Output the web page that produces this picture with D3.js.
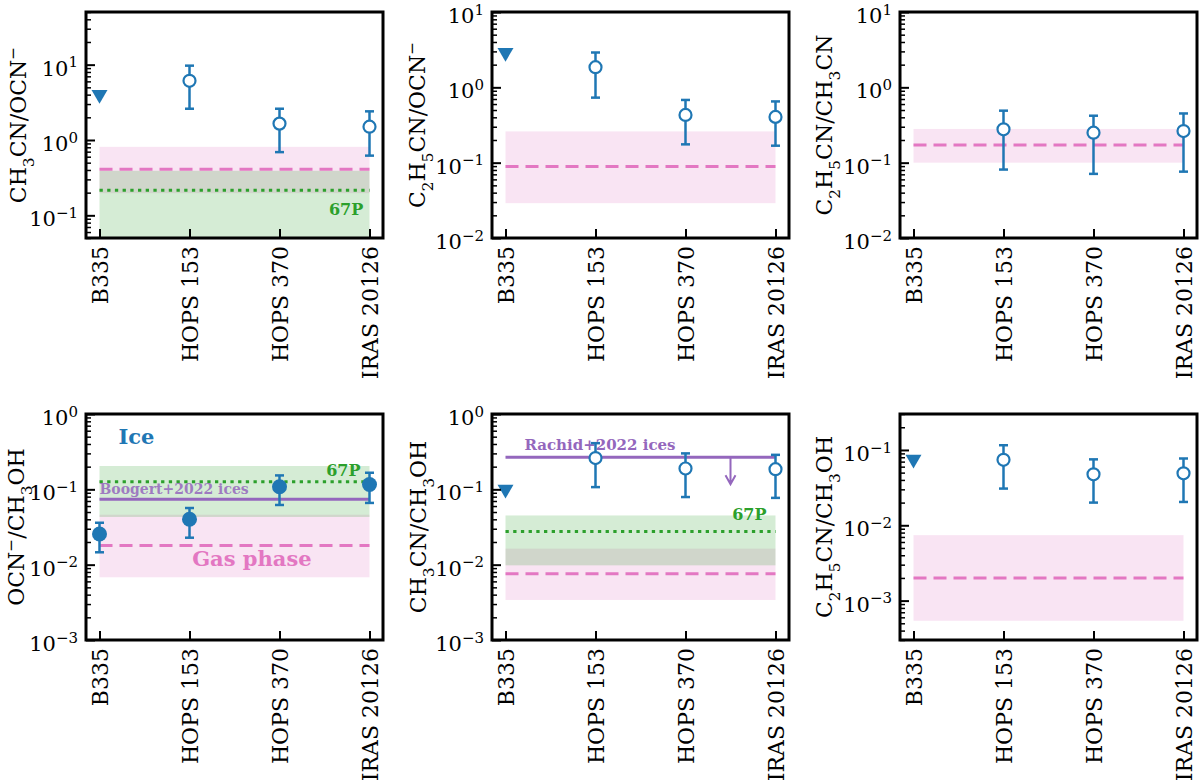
<!DOCTYPE html>
<html>
<head>
<meta charset="utf-8">
<script src="https://cdn.jsdelivr.net/npm/d3@7"></script>
<style>
  body { margin: 0; background: #fff; }
  svg { display: block; }
  text { font-family: "DejaVu Serif", "Liberation Serif", "Noto Serif", serif; }
</style>
</head>
<body>
<div id="chart"></div>
<script>
// ---- data ----
const sources = ["B335", "HOPS 153", "HOPS 370", "IRAS 20126"];

// CH3CN / OCN-
const ch3cnOcnLimit = 4.0;               // B335 upper limit
const ch3cnOcnVal = [6.1, 1.65, 1.5];    // HOPS 153, HOPS 370, IRAS 20126
const ch3cnOcnLo = [2.6, 0.69, 0.62];
const ch3cnOcnHi = [9.7, 2.6, 2.4];
const ch3cnOcnGas = [0.197, 0.81, 0.41]; // band low, band high, median
const ch3cnOcnComet = [0.02, 0.39, 0.216];

// C2H5CN / OCN-
const c2h5cnOcnLimit = 2.9;
const c2h5cnOcnVal = [1.85, 0.43, 0.405];
const c2h5cnOcnLo = [0.73, 0.175, 0.168];
const c2h5cnOcnHi = [2.9, 0.68, 0.65];
const c2h5cnOcnGas = [0.029, 0.26, 0.089];

// C2H5CN / CH3CN
const c2h5cnCh3cnVal = [0.277, 0.25, 0.263];
const c2h5cnCh3cnLo = [0.081, 0.071, 0.076];
const c2h5cnCh3cnHi = [0.49, 0.42, 0.45];
const c2h5cnCh3cnGas = [0.1, 0.28, 0.171];

// OCN- / CH3OH (all four detected)
const ocnCh3ohVal = [0.0255, 0.04, 0.108, 0.116];
const ocnCh3ohLo = [0.0146, 0.0228, 0.062, 0.066];
const ocnCh3ohHi = [0.036, 0.0565, 0.153, 0.166];
const ocnCh3ohGas = [0.0068, 0.046, 0.018];
const ocnCh3ohComet = [0.043, 0.204, 0.126];
const ocnCh3ohBoogert = 0.074;

// CH3CN / CH3OH
const ch3cnCh3ohLimit = 0.1;
const ch3cnCh3ohVal = [0.26, 0.189, 0.185];
const ch3cnCh3ohLo = [0.107, 0.079, 0.077];
const ch3cnCh3ohHi = [0.41, 0.30, 0.287];
const ch3cnCh3ohGas = [0.0034, 0.0163, 0.0076];
const ch3cnCh3ohComet = [0.0098, 0.045, 0.0275];
const ch3cnCh3ohRachid = [0.267, 0.117]; // upper limit, arrow tip

// C2H5CN / CH3OH
const c2h5cnCh3ohLimit = 0.075;
const c2h5cnCh3ohVal = [0.074, 0.0475, 0.049];
const c2h5cnCh3ohLo = [0.0307, 0.02, 0.0204];
const c2h5cnCh3ohHi = [0.1155, 0.075, 0.077];
const c2h5cnCh3ohGas = [0.00054, 0.0074, 0.002];

const BLUE = "#1f77b4", PINK = "#e377c2", GREEN = "#2ca02c", PURPLE = "#9467bd";
const SERIF = "'DejaVu Serif', 'Liberation Serif', 'Noto Serif', serif";

// label pieces: [text, shift] with shift -1 = subscript, 1 = superscript
const panels = [
  {
    col: 0, row: 0, ylim: [0.05, 50], majors: [0.1, 1, 10], labelOff: 60,
    ylabel: [["CH", 0], ["3", -1], ["CN/OCN", 0], ["−", 1]],
    limit: ch3cnOcnLimit, val: ch3cnOcnVal, lo: ch3cnOcnLo, hi: ch3cnOcnHi, open: true,
    gas: ch3cnOcnGas, comet: ch3cnOcnComet,
    notes: [{ t: "67P", x: 2.93, y: 0.1, c: GREEN, s: 16, a: "end" }]
  },
  {
    col: 1, row: 0, ylim: [0.01, 10], majors: [0.01, 0.1, 1, 10], labelOff: 67,
    ylabel: [["C", 0], ["2", -1], ["H", 0], ["5", -1], ["CN/OCN", 0], ["−", 1]],
    limit: c2h5cnOcnLimit, val: c2h5cnOcnVal, lo: c2h5cnOcnLo, hi: c2h5cnOcnHi, open: true,
    gas: c2h5cnOcnGas, notes: []
  },
  {
    col: 2, row: 0, ylim: [0.01, 10], majors: [0.01, 0.1, 1, 10], labelOff: 68,
    ylabel: [["C", 0], ["2", -1], ["H", 0], ["5", -1], ["CN/CH", 0], ["3", -1], ["CN", 0]],
    limit: null, val: c2h5cnCh3cnVal, lo: c2h5cnCh3cnLo, hi: c2h5cnCh3cnHi, open: true,
    gas: c2h5cnCh3cnGas, notes: []
  },
  {
    col: 0, row: 1, ylim: [0.001, 1], majors: [0.001, 0.01, 0.1, 1], labelOff: 62,
    ylabel: [["OCN", 0], ["−", 1], ["/CH", 0], ["3", -1], ["OH", 0]],
    limit: null, val: ocnCh3ohVal, lo: ocnCh3ohLo, hi: ocnCh3ohHi, open: false,
    gas: ocnCh3ohGas, comet: ocnCh3ohComet, ice: ocnCh3ohBoogert,
    notes: [
      { t: "Ice", x: 0.21, y: 0.4, c: BLUE, s: 21, a: "start" },
      { t: "67P", x: 2.9, y: 0.15, c: GREEN, s: 16, a: "end" },
      { t: "Boogert+2022 ices", x: 0.0, y: 0.086, c: PURPLE, s: 14, a: "start", o: 0.85 },
      { t: "Gas phase", x: 1.03, y: 0.0096, c: PINK, s: 21, a: "start" }
    ]
  },
  {
    col: 1, row: 1, ylim: [0.001, 1], majors: [0.001, 0.01, 0.1, 1], labelOff: 66,
    ylabel: [["CH", 0], ["3", -1], ["CN/CH", 0], ["3", -1], ["OH", 0]],
    limit: ch3cnCh3ohLimit, val: ch3cnCh3ohVal, lo: ch3cnCh3ohLo, hi: ch3cnCh3ohHi, open: true,
    gas: ch3cnCh3ohGas, comet: ch3cnCh3ohComet, ice: ch3cnCh3ohRachid[0], arrow: ch3cnCh3ohRachid,
    notes: [
      { t: "Rachid+2022 ices", x: 0.21, y: 0.33, c: PURPLE, s: 15, a: "start" },
      { t: "67P", x: 2.9, y: 0.039, c: GREEN, s: 16, a: "end" }
    ]
  },
  {
    col: 2, row: 1, ylim: [0.0003, 0.3], majors: [0.001, 0.01, 0.1], labelOff: 68,
    ylabel: [["C", 0], ["2", -1], ["H", 0], ["5", -1], ["CN/CH", 0], ["3", -1], ["OH", 0]],
    limit: c2h5cnCh3ohLimit, val: c2h5cnCh3ohVal, lo: c2h5cnCh3ohLo, hi: c2h5cnCh3ohHi, open: true,
    gas: c2h5cnCh3ohGas, notes: []
  }
];

const width = 1200, height = 784;
const colLeft = [86, 492, 900], rowTop = [12, 414];
const W = 297, H = 226;

const svg = d3.select("#chart").append("svg")
  .attr("width", width)
  .attr("height", height);

function richText(sel, parts, size) {
  let shift = 0;
  parts.forEach(([t, s]) => {
    const dy = (s - shift) * -0.35 * size;
    sel.append("tspan")
      .attr("dy", dy)
      .style("font-size", s === 0 ? `${size}px` : `${size * 0.7}px`)
      .text(t);
    shift = s;
  });
}

function minorTicks(domain) {
  const out = [];
  const e0 = Math.floor(Math.log10(domain[0])), e1 = Math.ceil(Math.log10(domain[1]));
  for (let e = e0; e <= e1; e++) {
    for (let k = 2; k <= 9; k++) {
      const v = k * Math.pow(10, e);
      if (v >= domain[0] * 0.999 && v <= domain[1] * 1.001) out.push(v);
    }
  }
  return out;
}

panels.forEach((p, idx) => {
  const g = svg.append("g")
    .attr("transform", `translate(${colLeft[p.col]},${rowTop[p.row]})`);

  const x = d3.scaleLinear().domain([-0.15, 3.15]).range([0, W]);
  const y = d3.scaleLog().domain(p.ylim).range([H, 0]);

  g.append("clipPath").attr("id", `clip${idx}`)
    .append("rect").attr("width", W).attr("height", H);
  const plot = g.append("g").attr("clip-path", `url(#clip${idx})`);

  // shaded ranges
  const band = (r, color) => plot.append("rect")
    .attr("x", x(0)).attr("width", x(3) - x(0))
    .attr("y", y(r[1])).attr("height", y(r[0]) - y(r[1]))
    .attr("fill", color).attr("fill-opacity", 0.2);
  band(p.gas, PINK);
  if (p.comet) band(p.comet, GREEN);

  const hline = (v, color, dash) => plot.append("line")
    .attr("x1", x(0)).attr("x2", x(3))
    .attr("y1", y(v)).attr("y2", y(v))
    .attr("stroke", color).attr("stroke-width", 3)
    .attr("stroke-dasharray", dash);
  hline(p.gas[2], PINK, "13,7");
  if (p.comet) hline(p.comet[2], GREEN, "3.3,4.4");
  if (p.ice) hline(p.ice, PURPLE, null);

  if (p.arrow) {
    const ax = x(2.5), a0 = y(p.arrow[0]), a1 = y(p.arrow[1]);
    plot.append("path")
      .attr("d", `M${ax},${a0}V${a1}M${ax - 5},${a1 - 9}L${ax},${a1}L${ax + 5},${a1 - 9}`)
      .attr("fill", "none").attr("stroke", PURPLE).attr("stroke-width", 2);
  }

  // annotations
  p.notes.forEach(n => {
    plot.append("text")
      .attr("x", x(n.x)).attr("y", y(n.y))
      .attr("text-anchor", n.a)
      .attr("fill", n.c)
      .attr("fill-opacity", n.o || 1)
      .style("font-size", `${n.s}px`)
      .style("font-weight", "bold")
      .text(n.t);
  });

  // detections with error bars
  const first = p.val.length === 4 ? 0 : 1;
  const pts = p.val.map((v, i) => ({ xi: i + first, v, lo: p.lo[i], hi: p.hi[i] }));
  const eb = plot.append("g").attr("stroke", BLUE).attr("stroke-width", 2.5);
  pts.forEach(d => {
    eb.append("line").attr("x1", x(d.xi)).attr("x2", x(d.xi)).attr("y1", y(d.lo)).attr("y2", y(d.hi));
    [d.lo, d.hi].forEach(c => eb.append("line")
      .attr("x1", x(d.xi) - 4.5).attr("x2", x(d.xi) + 4.5)
      .attr("y1", y(c)).attr("y2", y(c)));
  });
  plot.selectAll(".pt").data(pts).join("circle")
    .attr("class", "pt")
    .attr("cx", d => x(d.xi)).attr("cy", d => y(d.v))
    .attr("r", p.open ? 6 : 7.5)
    .attr("fill", p.open ? "#fff" : BLUE)
    .attr("stroke", BLUE).attr("stroke-width", p.open ? 2.2 : 0);

  // B335 upper limit
  if (p.limit !== null) {
    plot.append("path")
      .attr("d", d3.symbol(d3.symbolTriangle, 110)())
      .attr("transform", `translate(${x(0)},${y(p.limit)}) rotate(180)`)
      .attr("fill", BLUE);
  }

  // axes, ticks inside
  const yMinor = g.append("g").call(d3.axisLeft(y).tickValues(minorTicks(p.ylim)).tickSize(-5).tickFormat(""));
  const yMajor = g.append("g").call(d3.axisLeft(y).tickValues(p.majors).tickSize(-9).tickFormat(""));
  yMinor.selectAll("line").attr("stroke-width", 1.5);
  yMajor.selectAll("line").attr("stroke-width", 2);
  [yMinor, yMajor].forEach(a => a.select(".domain").remove());

  yMajor.selectAll(".tick").each(function (v) {
    const e = Math.round(Math.log10(v));
    const t = d3.select(this).append("text")
      .attr("x", -8).attr("dy", "0.5em")
      .attr("fill", "#000")
      .attr("text-anchor", "end")
      .style("font-size", "21px")
      .style("font-family", SERIF);
    t.append("tspan").text("10");
    t.append("tspan").attr("dy", "-0.55em").style("font-size", "15px")
      .text(e < 0 ? `−${-e}` : `${e}`);
  });

  const xAx = g.append("g").attr("transform", `translate(0,${H})`)
    .call(d3.axisBottom(x).tickValues([0, 1, 2, 3]).tickSize(-9).tickFormat(""));
  xAx.select(".domain").remove();
  xAx.selectAll("line").attr("stroke-width", 2);
  xAx.selectAll(".tick").append("text")
    .attr("transform", "translate(0,8) rotate(-90)")
    .attr("dy", "0.35em")
    .attr("text-anchor", "end")
    .attr("fill", "#000")
    .style("font-size", "22px")
    .style("font-family", SERIF)
    .text(i => sources[i]);

  // frame
  g.append("rect").attr("width", W).attr("height", H)
    .attr("fill", "none").attr("stroke", "#000").attr("stroke-width", 3);

  // y label
  const lab = g.append("text")
    .attr("transform", `translate(${-p.labelOff},${H / 2}) rotate(-90)`)
    .attr("text-anchor", "middle")
    .attr("fill", "#000")
    .style("font-family", SERIF);
  richText(lab, p.ylabel, 22);
});
</script>
</body>
</html>
